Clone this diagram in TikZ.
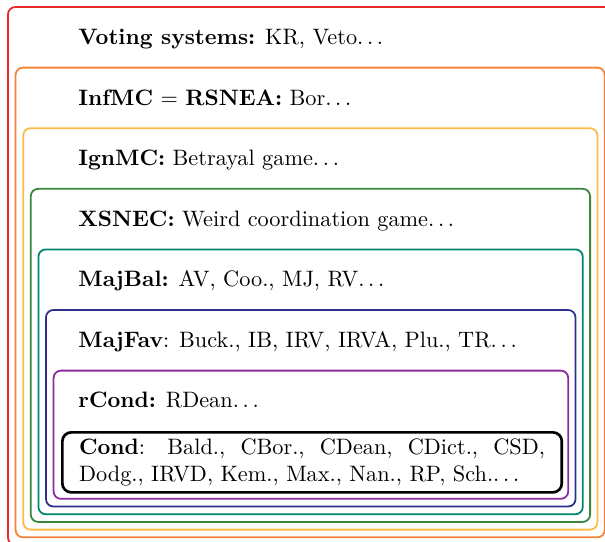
\documentclass[tikz,border=0pt]{standalone}
\usepackage{tikz}
\usetikzlibrary{positioning}
\definecolor{setred}{RGB}{232,40,42}
\definecolor{setorange}{RGB}{245,130,55}
\definecolor{setyellow}{RGB}{253,186,72}
\definecolor{setgreen}{RGB}{58,134,62}
\definecolor{setteal}{RGB}{0,134,112}
\definecolor{setblue}{RGB}{46,49,140}
\definecolor{setpurple}{RGB}{140,42,160}
\newcommand{\etcdots}{.\kern\fontdimen3\font.\kern\fontdimen3\font.\kern\fontdimen3\font}
\tikzset{
  setbox/.style  = {thick, rounded corners=3.3pt},
  setlabel/.style = {anchor=base west, inner sep=0pt},
  condbox/.style = {draw, very thick, rounded corners=4pt, align=justify,
                    text width=209pt, inner xsep=7.5pt, inner ysep=2.9pt,
                    anchor=north west}
}

\begin{document}
\begin{tikzpicture}[x=0.01576cm, y=-0.01576cm]
	\useasboundingbox (0,0) rectangle (605,541);
	
	% nested classes, from the outermost one inwards
	\foreach \col [count=\k from 0] in
	    {setred,setorange,setyellow,setgreen,setteal,setblue,setpurple}
	  \draw[setbox, \col] (8+7.6*\k, 7+60.6*\k) rectangle (612-7.3*\k, 545-7.7*\k);
	
	% the name of each class, at the top of its box
	\node[setlabel] (vote) at (78,44) {\textbf{Voting systems:} KR, Veto\etcdots};
	\node[setlabel] (infmc) at (78,105) {\textbf{InfMC} = \textbf{RSNEA:} Bor\etcdots};
	\node[setlabel] (ignmc) at (78,165) {\textbf{IgnMC:} Betrayal game\etcdots};
	\node[setlabel] (xsnec) at (78,226) {\textbf{XSNEC:} Weird coordination game\etcdots};
	\node[setlabel] (majbal) at (78,286) {\textbf{MajBal:} AV, Coo., MJ, RV\etcdots};
	\node[setlabel] (majfav) at (78,347) {\textbf{MajFav}: Buck., IB, IRV, IRVA, Plu., TR\etcdots};
	\node[setlabel] (rcond) at (78,407) {\textbf{rCond:} RDean\etcdots};
	
	% the innermost class
	\node[condbox] (cond) at (61,431)
	  {\textbf{Cond}: Bald., CBor., CDean, CDict., CSD, Dodg., IRVD, Kem., Max., Nan., RP, Sch.\etcdots};
	
\end{tikzpicture}
\end{document}
